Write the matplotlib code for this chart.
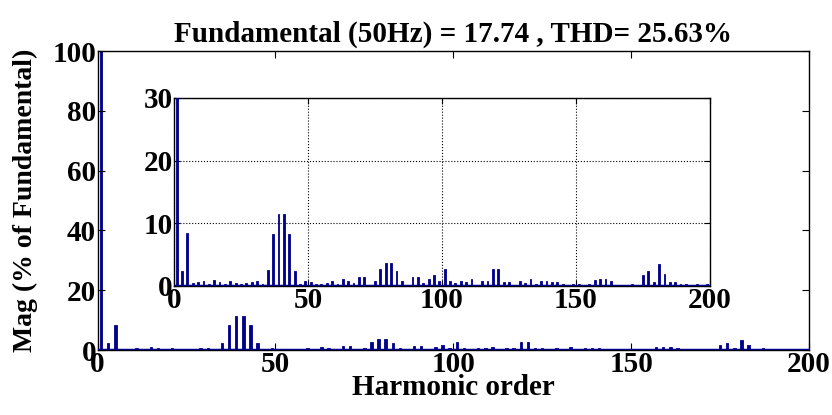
import matplotlib
matplotlib.use("Agg")
import matplotlib.pyplot as plt
import numpy as np

# Harmonic orders (odd) and magnitudes (% of fundamental)
harmonics = list(range(1, 200, 2))
magnitudes = [
    100, 2.3, 8.4, 0.4, 0.5, 0.7, 0.3, 0.9, 0.6, 0.2,      # 1-19
    0.7, 0.4, 0.3, 0.4, 0.6, 0.7, 0.3, 2.5, 8.2, 11.4,     # 21-39
    11.4, 8.2, 2.3, 0.3, 0.7, 0.5, 0.3, 0.3, 0.4, 0.7,     # 41-59
    0.3, 1.0, 0.8, 0.4, 1.3, 1.3, 0.1, 0.8, 2.6, 3.6,      # 61-79
    3.6, 2.4, 0.8, 0.1, 1.3, 1.3, 0.4, 1.0, 1.7, 0.8,      # 81-99
    2.6, 0.8, 0.4, 0.8, 0.6, 1.0, 0.1, 0.7, 0.8, 2.7,      # 101-119
    2.6, 0.6, 0.6, 0.1, 0.7, 0.4, 1.0, 0.3, 0.7, 0.7,      # 121-139
    0.6, 0.5, 0.2, 0.1, 0.3, 0.2, 0.1, 0.2, 0.9, 1.0,      # 141-159
    1.1, 0.8, 0.05, 0.05, 0.05, 0.2, 0.05, 1.7, 2.3, 0.6,  # 161-179
    3.4, 1.8, 0.5, 0.6, 0.3, 0.3, 0.1, 0.3, 0.1, 0.3,      # 181-199
]

title_text = "Fundamental (50Hz) = 17.74 , THD= 25.63%"
xlabel_text = "Harmonic order"
ylabel_text = "Mag (% of Fundamental)"
main_xticks = [0, 50, 100, 150, 200]
main_yticks = [0, 20, 40, 60, 80, 100]
inset_yticks = [0, 10, 20, 30]

plt.rcParams['font.family'] = ['Liberation Serif', 'DejaVu Serif']
plt.rcParams['font.weight'] = 'bold'

W, H = 832, 415
fig = plt.figure(figsize=(W / 100, H / 100), dpi=100)

def frac(x0, y0, x1, y1):
    return [x0 / W, (H - y1) / H, (x1 - x0) / W, (y1 - y0) / H]

bar_color = '#00008B'
fs = 21

ax = fig.add_axes(frac(97.5, 51, 809, 350))
ax.bar(harmonics, magnitudes, width=0.7, color=bar_color, edgecolor=bar_color, linewidth=0.6)
ax.axhline(0, color=bar_color, lw=2.5, zorder=3)
ax.set_xlim(0, 200)
ax.set_ylim(0, 100)
ax.set_xticks(main_xticks)
ax.set_yticks(main_yticks)
ax.tick_params(direction='in', top=True, right=True, labelsize=fs, length=5, width=0.8, pad=1)
for lab in ax.get_xticklabels() + ax.get_yticklabels():
    lab.set_fontweight('bold')
ax.set_title(title_text, fontsize=fs, fontweight='bold', pad=7)
ax.set_xlabel(xlabel_text, fontsize=fs, fontweight='bold', labelpad=-3)
ax.set_ylabel(ylabel_text, fontsize=20, fontweight='bold', labelpad=10)
for s in ax.spines.values():
    s.set_linewidth(1.0)

axi = fig.add_axes(frac(174, 98, 710, 285.5))
axi.set_facecolor('white')
axi.bar(harmonics, magnitudes, width=0.7, color=bar_color, edgecolor=bar_color, linewidth=0.6, zorder=3)
axi.axhline(0, color=bar_color, lw=2.5, zorder=4)
axi.set_xlim(0, 200)
axi.set_ylim(0, 30)
axi.set_xticks(main_xticks)
axi.set_yticks(inset_yticks)
axi.grid(True, linestyle=':', color='black', linewidth=0.8)
axi.set_axisbelow(True)
axi.tick_params(direction='in', top=True, right=True, labelsize=fs, length=4, width=0.8, pad=1)
for lab in axi.get_xticklabels() + axi.get_yticklabels():
    lab.set_fontweight('bold')
for s in axi.spines.values():
    s.set_linewidth(1.0)

fig.savefig("out.png", dpi=100)
